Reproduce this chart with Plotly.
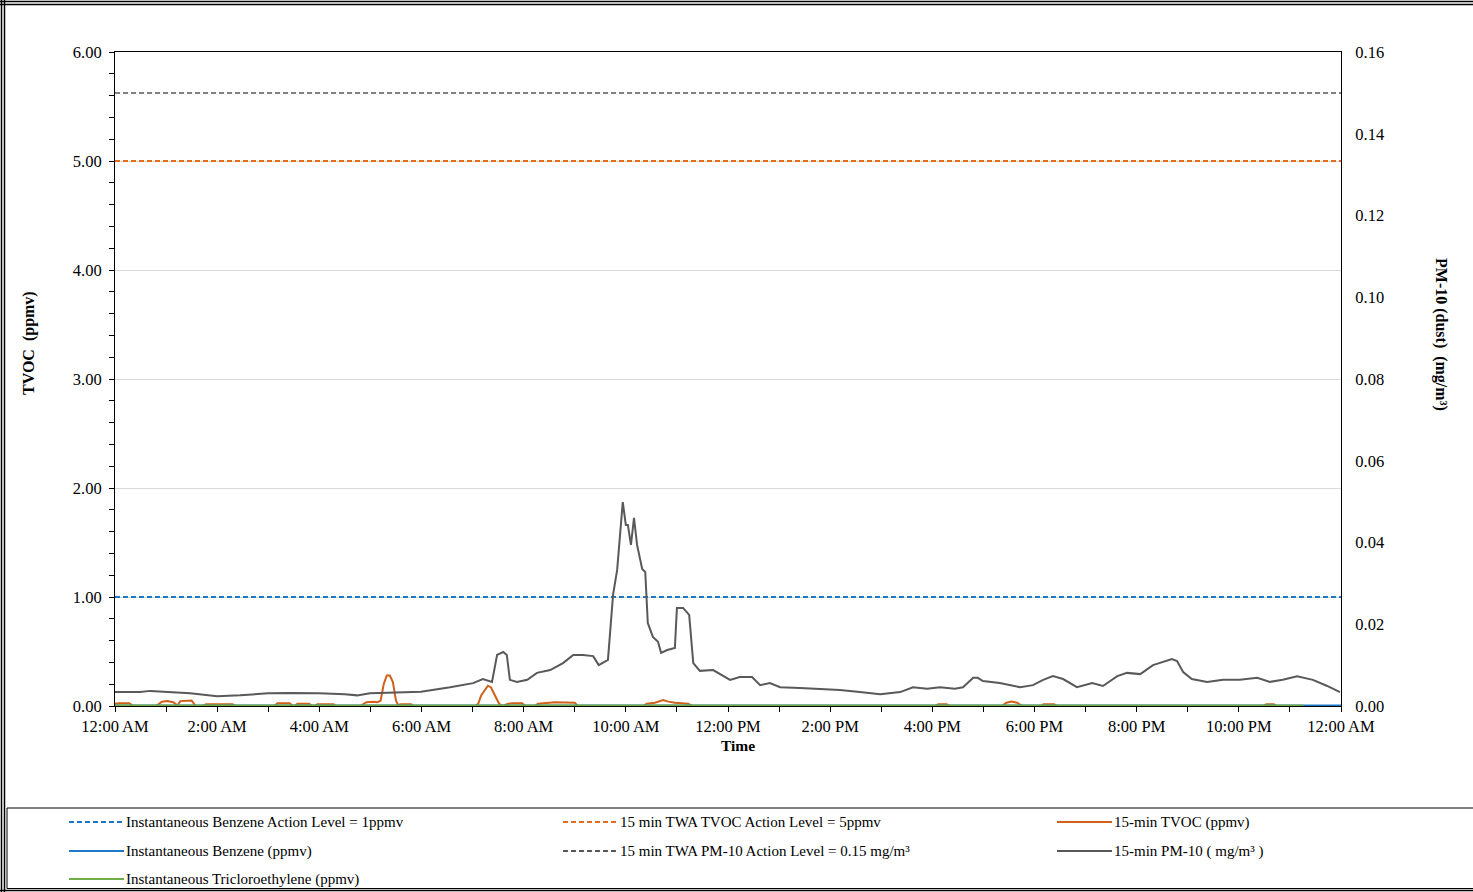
import plotly.graph_objects as go

# ---------------- data ----------------
# time in hours since midnight
PM10_T = [0.00, 0.49, 0.69, 1.00, 1.47, 2.00, 2.45, 3.00, 3.43, 3.99, 4.50, 4.74, 4.99, 5.50, 5.99,
          6.56, 7.01, 7.20, 7.38, 7.48, 7.60, 7.67, 7.73, 7.87, 8.07, 8.26, 8.52, 8.77, 8.97, 9.16,
          9.36, 9.47, 9.65, 9.75, 9.83, 9.94, 10.00, 10.04, 10.10, 10.16, 10.22, 10.32, 10.38, 10.43,
          10.53, 10.63, 10.69, 10.81, 10.96, 11.00, 11.12, 11.24, 11.32, 11.45, 11.71, 12.04, 12.23,
          12.47, 12.63, 12.82, 13.02, 13.41, 13.80, 14.19, 14.58, 14.98, 15.37, 15.62, 15.90, 16.15,
          16.44, 16.60, 16.80, 16.89, 16.99, 17.32, 17.72, 17.97, 18.17, 18.36, 18.56, 18.83, 19.13,
          19.34, 19.62, 19.81, 20.07, 20.32, 20.69, 20.79, 20.91, 21.08, 21.38, 21.69, 22.02, 22.36,
          22.61, 22.86, 23.14, 23.45, 23.73, 23.98]
PM10_V = [0.0034, 0.0034, 0.0037, 0.0034, 0.0031, 0.0024, 0.0026, 0.0031, 0.0032, 0.0031, 0.0029,
          0.0026, 0.0031, 0.0033, 0.0035, 0.0046, 0.0056, 0.0066, 0.0059, 0.0125, 0.0132, 0.0125,
          0.0064, 0.0059, 0.0064, 0.0081, 0.0088, 0.0105, 0.0125, 0.0125, 0.0122, 0.0100, 0.0113,
          0.0272, 0.0333, 0.0499, 0.0443, 0.0443, 0.0394, 0.0460, 0.0394, 0.0335, 0.0328, 0.0203,
          0.0169, 0.0157, 0.0130, 0.0137, 0.0142, 0.0240, 0.0240, 0.0223, 0.0105, 0.0086, 0.0088,
          0.0064, 0.0071, 0.0071, 0.0051, 0.0056, 0.0046, 0.0044, 0.0042, 0.0039, 0.0034, 0.0029,
          0.0034, 0.0046, 0.0042, 0.0046, 0.0042, 0.0046, 0.0069, 0.0069, 0.0061, 0.0056, 0.0046,
          0.0051, 0.0064, 0.0073, 0.0066, 0.0046, 0.0056, 0.0049, 0.0073, 0.0081, 0.0078, 0.0100,
          0.0115, 0.0110, 0.0083, 0.0066, 0.0059, 0.0064, 0.0064, 0.0069, 0.0059, 0.0064, 0.0073,
          0.0064, 0.0049, 0.0034]

TVOC_T = [0.00, 0.08, 0.28, 0.36, 0.80, 0.92, 1.02, 1.14, 1.22, 1.28, 1.50, 1.58, 1.72, 1.78, 2.30,
          2.36, 3.12, 3.18, 3.42, 3.48, 3.52, 3.57, 3.80, 3.86, 3.92, 3.96, 4.28, 4.32, 4.80, 4.92,
          5.06, 5.14, 5.20, 5.26, 5.32, 5.38, 5.44, 5.50, 5.54, 5.60, 5.80, 5.84, 7.05, 7.11, 7.17,
          7.24, 7.30, 7.36, 7.44, 7.52, 7.58, 7.70, 7.79, 7.97, 8.03, 8.22, 8.28, 8.61, 9.00, 9.06,
          10.34, 10.41, 10.57, 10.73, 10.83, 10.96, 11.22, 11.30, 16.05, 16.12, 16.28, 16.34, 17.36,
          17.45, 17.55, 17.66, 17.76, 18.12, 18.18, 18.38, 18.44, 22.48, 22.54, 22.68, 22.74, 24.00]
TVOC_V = [0.020, 0.025, 0.025, 0.0, 0.0, 0.040, 0.045, 0.035, 0.005, 0.045, 0.050, 0.0, 0.0, 0.015,
          0.015, 0.0, 0.0, 0.025, 0.025, 0.0, 0.0, 0.020, 0.020, 0.0, 0.0, 0.015, 0.015, 0.0, 0.0,
          0.035, 0.040, 0.035, 0.050, 0.200, 0.280, 0.280, 0.220, 0.050, 0.010, 0.015, 0.015, 0.0,
          0.0, 0.020, 0.100, 0.150, 0.186, 0.170, 0.100, 0.020, 0.0, 0.020, 0.025, 0.025, 0.0, 0.0,
          0.020, 0.035, 0.030, 0.0, 0.0, 0.020, 0.030, 0.055, 0.040, 0.030, 0.020, 0.0, 0.0, 0.015,
          0.015, 0.0, 0.0, 0.030, 0.040, 0.030, 0.0, 0.0, 0.015, 0.015, 0.0, 0.0, 0.015, 0.015, 0.0,
          0.0]

BENZENE_T = [0.0, 24.0]
BENZENE_V = [0.0, 0.0]
TCE_T = [0.0, 23.26]
TCE_V = [0.0, 0.0]

BENZENE_LEVEL = 1.0      # ppmv
TVOC_LEVEL = 5.0         # ppmv
PM10_LEVEL = 0.15        # mg/m3

X_TICKS = [0, 2, 4, 6, 8, 10, 12, 14, 16, 18, 20, 22, 24]
X_LABELS = ["12:00 AM", "2:00 AM", "4:00 AM", "6:00 AM", "8:00 AM", "10:00 AM", "12:00 PM",
            "2:00 PM", "4:00 PM", "6:00 PM", "8:00 PM", "10:00 PM", "12:00 AM"]

NAMES = ["Instantaneous Benzene Action Level = 1ppmv",
         "15 min TWA TVOC Action Level = 5ppmv",
         "15-min TVOC (ppmv)",
         "Instantaneous Benzene (ppmv)",
         "15 min TWA PM-10 Action Level = 0.15 mg/m³",
         "15-min PM-10 ( mg/m³ )",
         "Instantaneous Tricloroethylene (ppmv)"]
COLORS = ["#1F78C8", "#E46C1E", "#D0601A", "#1F78C8", "#595959", "#595959", "#70AD47"]
DASHES = ["5px,3px", "5px,3px", "solid", "solid", "5px,3px", "solid", "solid"]
WIDTHS = [2, 2, 2, 3, 1.5, 2, 3]

# ---------------- geometry ----------------
W, H = 1473, 892
L, R, T, B = 115, 1341, 52, 706


def px(x):
    return (x - L) / (R - L)


def py(y):
    return (B - y) / (B - T)


FONT = "Liberation Serif"
TICK_SIZE = 16.5

fig = go.Figure()

series = [
    (BENZENE_T, [BENZENE_LEVEL, BENZENE_LEVEL], "y", 0),
    (BENZENE_T, [TVOC_LEVEL, TVOC_LEVEL], "y", 1),
    (TVOC_T, TVOC_V, "y", 2),
    (BENZENE_T, BENZENE_V, "y", 3),
    (TCE_T, TCE_V, "y", 6),
]
for xs, ys, ax, i in series:
    fig.add_trace(go.Scatter(x=xs, y=ys, mode="lines", yaxis=ax, name=NAMES[i], showlegend=False,
                             cliponaxis=False,
                             line=dict(color=COLORS[i], dash=DASHES[i], width=WIDTHS[i])))
for xs, ys, i in [(BENZENE_T, [PM10_LEVEL, PM10_LEVEL], 4), (PM10_T, PM10_V, 5)]:
    fig.add_trace(go.Scatter(x=xs, y=ys, mode="lines", yaxis="y2", name=NAMES[i], showlegend=False,
                             line=dict(color=COLORS[i], dash=DASHES[i], width=WIDTHS[i])))

fig.update_layout(
    width=W, height=H,
    margin=dict(l=L, r=W - R, t=T, b=H - B),
    paper_bgcolor="white", plot_bgcolor="white",
    font=dict(family=FONT, size=15, color="black"),
    showlegend=False,
    xaxis=dict(range=[0, 24], tickvals=X_TICKS, ticktext=X_LABELS, ticks="outside", ticklen=5,
               tickcolor="black", showgrid=False, zeroline=False, showline=True, linecolor="black",
               linewidth=1, mirror=True, tickfont=dict(size=TICK_SIZE), layer="below traces",
               minor=dict(dtick=1, ticks="outside", ticklen=5, tickcolor="black", showgrid=False)),
    yaxis=dict(range=[0, 6], dtick=1, tickformat=".2f", ticks="outside", ticklen=5, tickcolor="black",
               showgrid=True, gridcolor="#D9D9D9", gridwidth=1, zeroline=False, showline=True,
               linecolor="black", linewidth=1, tickfont=dict(size=TICK_SIZE), ticklabelstandoff=4,
               minor=dict(dtick=0.2, ticks="outside", ticklen=5, tickcolor="black", showgrid=False)),
    yaxis2=dict(range=[0, 0.16], dtick=0.02, tickformat=".2f", overlaying="y", side="right",
                ticks="", showgrid=False, zeroline=False, showline=True, linecolor="black",
                linewidth=1, tickfont=dict(size=TICK_SIZE), ticklabelstandoff=10),
)

# axis titles
fig.add_annotation(text="<b>TVOC  (ppmv)</b>", x=px(29), y=py(343), xref="paper", yref="paper",
                   xanchor="center", yanchor="middle", textangle=-90, showarrow=False,
                   font=dict(size=16))
fig.add_annotation(text="<b>PM-10 (dust)  (mg/m³)</b>", x=px(1441), y=py(334), xref="paper",
                   yref="paper", xanchor="center", yanchor="middle", textangle=90, showarrow=False,
                   font=dict(size=16))
fig.add_annotation(text="<b>Time</b>", x=px(738), y=py(745), xref="paper", yref="paper",
                   xanchor="center", yanchor="middle", showarrow=False, font=dict(size=15.5))

# outer frame and legend box
shapes = []
for yy in (1.5, 4.5):
    shapes.append(dict(type="line", xref="paper", yref="paper", x0=px(0), x1=px(W), y0=py(yy), y1=py(yy),
                       line=dict(color="black", width=1.5)))
for xx in (1.5, 4.5):
    shapes.append(dict(type="line", xref="paper", yref="paper", x0=px(xx), x1=px(xx), y0=py(0), y1=py(H),
                       line=dict(color="black", width=1.5)))
shapes.append(dict(type="line", xref="paper", yref="paper", x0=px(0), x1=px(W), y0=py(890.5), y1=py(890.5),
                   line=dict(color="black", width=1.5)))
shapes.append(dict(type="rect", xref="paper", yref="paper", x0=px(7), x1=px(W + 10), y0=py(808), y1=py(888.5),
                   line=dict(color="black", width=1), fillcolor="rgba(0,0,0,0)"))

# legend (three columns)
col_x = [69, 563, 1057]
row_y = [822, 851, 879]
for i, name in enumerate(NAMES):
    r, c = divmod(i, 3)
    x0, y0 = col_x[c], row_y[r]
    shapes.append(dict(type="line", xref="paper", yref="paper", x0=px(x0), x1=px(x0 + 55),
                       y0=py(y0), y1=py(y0),
                       line=dict(color=COLORS[i], dash=DASHES[i], width=2)))
    fig.add_annotation(text=name, x=px(x0 + 55), y=py(y0), xref="paper", yref="paper",
                       xanchor="left", yanchor="middle", showarrow=False, font=dict(size=15))

fig.update_layout(shapes=shapes)
fig.write_html("out.html", config={"displayModeBar": False},
               post_script="document.body.style.margin='0px';")
